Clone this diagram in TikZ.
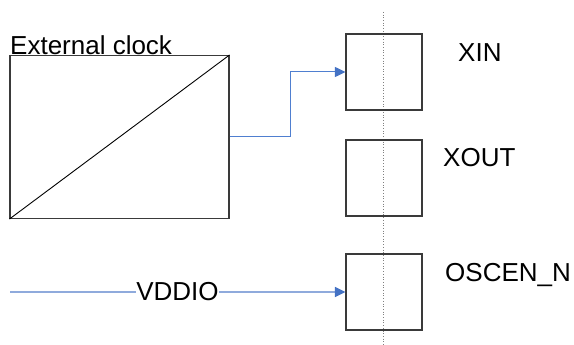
\documentclass[tikz,border=0pt]{standalone}
\usepackage{fontspec}
\setmainfont{Liberation Sans}
\usetikzlibrary{arrows.meta}
\definecolor{arrowblue}{HTML}{4472C4}
\definecolor{lineblue}{HTML}{4F7FD0}
\definecolor{lightblue}{HTML}{8FAADC}
\definecolor{boxgray}{HTML}{3A3A3A}
\begin{document}
\begin{tikzpicture}[x=1pt,y=-1pt,
  box/.style={draw=boxgray,line width=1.1pt,inner sep=0pt},
  pad/.style={box,minimum width=76pt,minimum height=76pt},
  lbl/.style={inner sep=0pt,anchor=base west,font=\fontsize{26}{30}\selectfont},
  conn/.style={draw=lineblue,line width=1pt,-{Triangle[length=10.5pt,width=10pt,color=arrowblue]}},
  conntwo/.style={draw=lightblue,line width=1.4pt,-{Triangle[length=10.5pt,width=10pt,color=arrowblue]}},
  axis/.style={draw=gray,dotted,line width=0.7pt}]
\useasboundingbox (0,0) rectangle (574,345);
% dotted centre line
\coordinate (dtop) at (383.5,12);
\coordinate (dbot) at (383.5,345);
\draw[axis] (dtop) -- (dbot);
% external clock box
\node[box,minimum width=219pt,minimum height=163pt] (ext) at (119.5,137) {};
\draw[black,line width=0.9pt] (ext.south west) -- (ext.north east);
\node[lbl] (extlbl) at (10,55) {External clock};
% pads
\node[pad] (xin) at (384,72) {};
\node[pad] (xout) at (384,178) {};
\node[pad] (osc) at (384,292) {};
\node[lbl] (xinlbl) at (458,62) {XIN};
\node[lbl] (xoutlbl) at (443,167) {XOUT};
\node[lbl] (osclbl) at (445,281) {OSCEN\_N};
% connectors
\draw[conn] (ext.east) -- ++(60.5,0) |- (xin.west);
\coordinate (vstart) at (10,292);
\draw[conntwo] (vstart) -- (osc.west);
\node[lbl,anchor=base,fill=white,inner xsep=0.5pt] (vdd) at (177.5,300.5) {VDDIO};
\end{tikzpicture}
\end{document}
